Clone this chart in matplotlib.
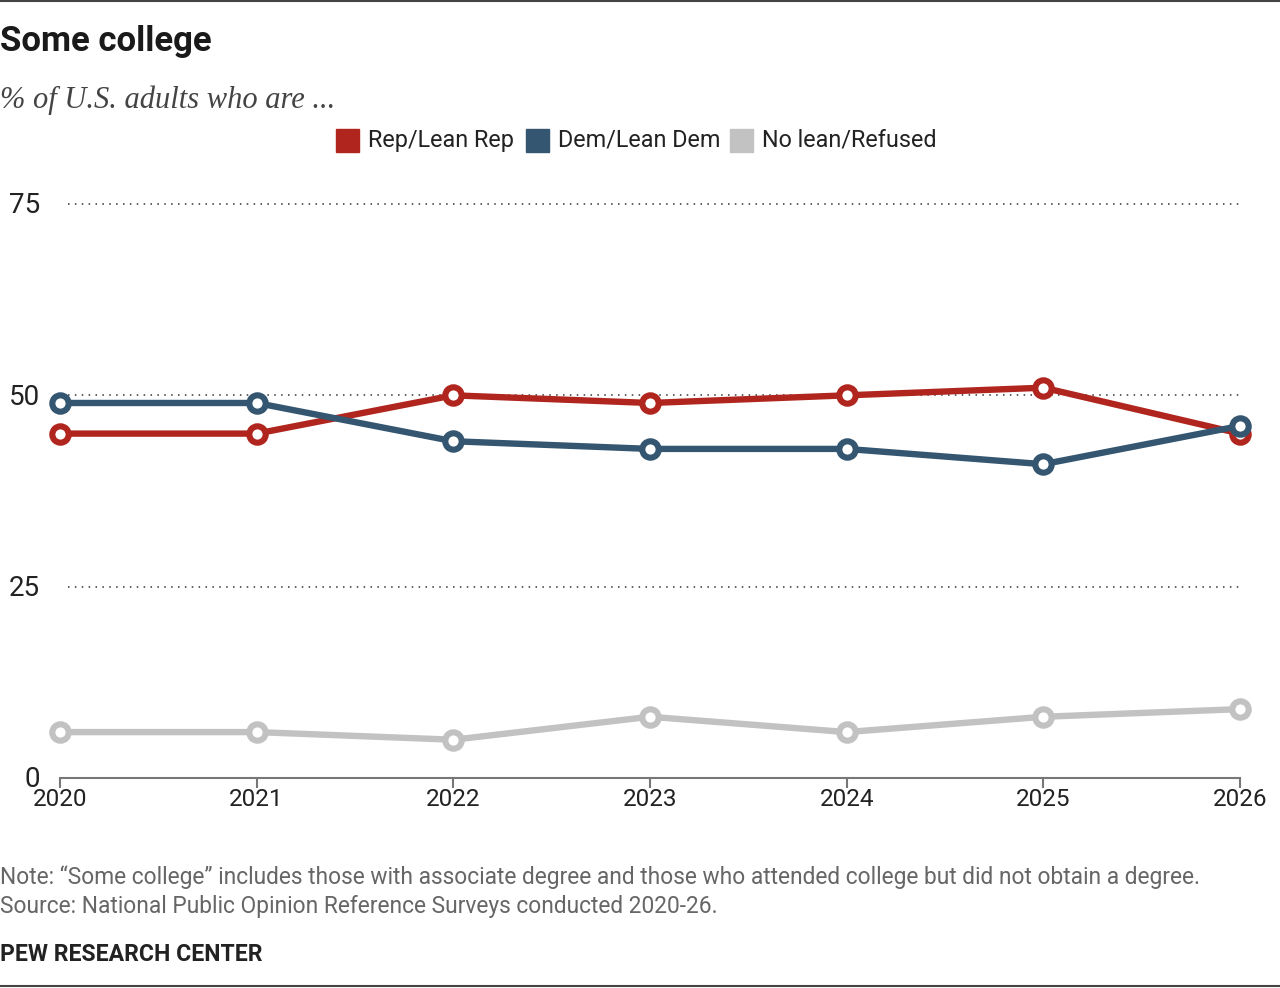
import matplotlib.pyplot as plt
from matplotlib.patches import Rectangle
from matplotlib.lines import Line2D

years = [2020, 2021, 2022, 2023, 2024, 2025, 2026]
rep = [45, 45, 50, 49, 50, 51, 45]
dem = [49, 49, 44, 43, 43, 41, 46]
nolean = [6, 6, 5, 8, 6, 8, 9]
yticks = [0, 25, 50, 75]

red = "#B0261F"
blue = "#345670"
gray = "#C2C2C2"
plt.rcParams["font.family"] = ["Roboto", "DejaVu Sans"]

fig = plt.figure(figsize=(12.8, 9.88), dpi=100)
ax = fig.add_axes([60 / 1280, 1 - 778 / 988, 1180 / 1280, (778 - 204) / 988])
ax.set_xlim(2020, 2026)
ax.set_ylim(0, 75)

# dotted gridlines
for v in yticks[1:]:
    ax.plot([2020.04, 2026], [v, v], linestyle=(0, (1, 3.5)), color="#333333",
            linewidth=1.1, clip_on=False, zorder=1)

for vals, col in [(nolean, gray), (rep, red), (dem, blue)]:
    ax.plot(years, vals, color=col, linewidth=4.6, marker="o", markersize=11.8,
            markerfacecolor="white", markeredgecolor=col, markeredgewidth=4.4,
            clip_on=False, zorder=3, solid_joinstyle="round")

for s in ["top", "right", "left"]:
    ax.spines[s].set_visible(False)
ax.spines["bottom"].set_color("#777777")
ax.spines["bottom"].set_linewidth(1.5)
ax.set_xticks(years)
ax.set_xticklabels([str(y) for y in years], fontsize=17.5, color="#222222")
ax.tick_params(axis="x", length=7, width=1.5, color="#777777", pad=0)
ax.set_yticks([])
for v in yticks:
    ax.text(-0.017, v - 0.25, str(v), transform=ax.get_yaxis_transform(),
            ha="right", va="center", fontsize=20, color="#222222")

# titles
fig.text(0.0, 1 - 42 / 988, "Some college", fontsize=25, fontweight="bold",
         color="#1a1a1a", va="center")
fig.text(0.0, 1 - 100 / 988, "% of U.S. adults who are ...", fontsize=22,
         style="italic", family=["Liberation Serif", "DejaVu Serif"],
         color="#444444", va="center")

# legend
legend_items = [("Rep/Lean Rep", red, 336), ("Dem/Lean Dem", blue, 526),
                ("No lean/Refused", gray, 730)]
for label, col, x0 in legend_items:
    fig.patches.append(Rectangle((x0 / 1280, 1 - 152 / 988), 23 / 1280, 23 / 988,
                                 transform=fig.transFigure, color=col))
    fig.text((x0 + 32) / 1280, 1 - 140 / 988, label, fontsize=16.8,
             color="#222222", va="center")

# notes
fig.text(0.0, 1 - 877 / 988,
         "Note: \u201cSome college\u201d includes those with associate degree and those who attended college but did not obtain a degree.",
         fontsize=16.4, color="#666666", va="center")
fig.text(0.0, 1 - 906 / 988,
         "Source: National Public Opinion Reference Surveys conducted 2020-26.",
         fontsize=16.4, color="#666666", va="center")
fig.text(0.0, 1 - 954 / 988, "PEW RESEARCH CENTER", fontsize=16.6,
         fontweight="bold", color="#222222", va="center")

# top and bottom rules
fig.lines.append(Line2D([0, 1], [1 - 1 / 988, 1 - 1 / 988], transform=fig.transFigure,
                        color="#444444", linewidth=1.5))
fig.lines.append(Line2D([0, 1], [1 - 986 / 988, 1 - 986 / 988], transform=fig.transFigure,
                        color="#444444", linewidth=1.5))

fig.savefig("out.png", dpi=100)
